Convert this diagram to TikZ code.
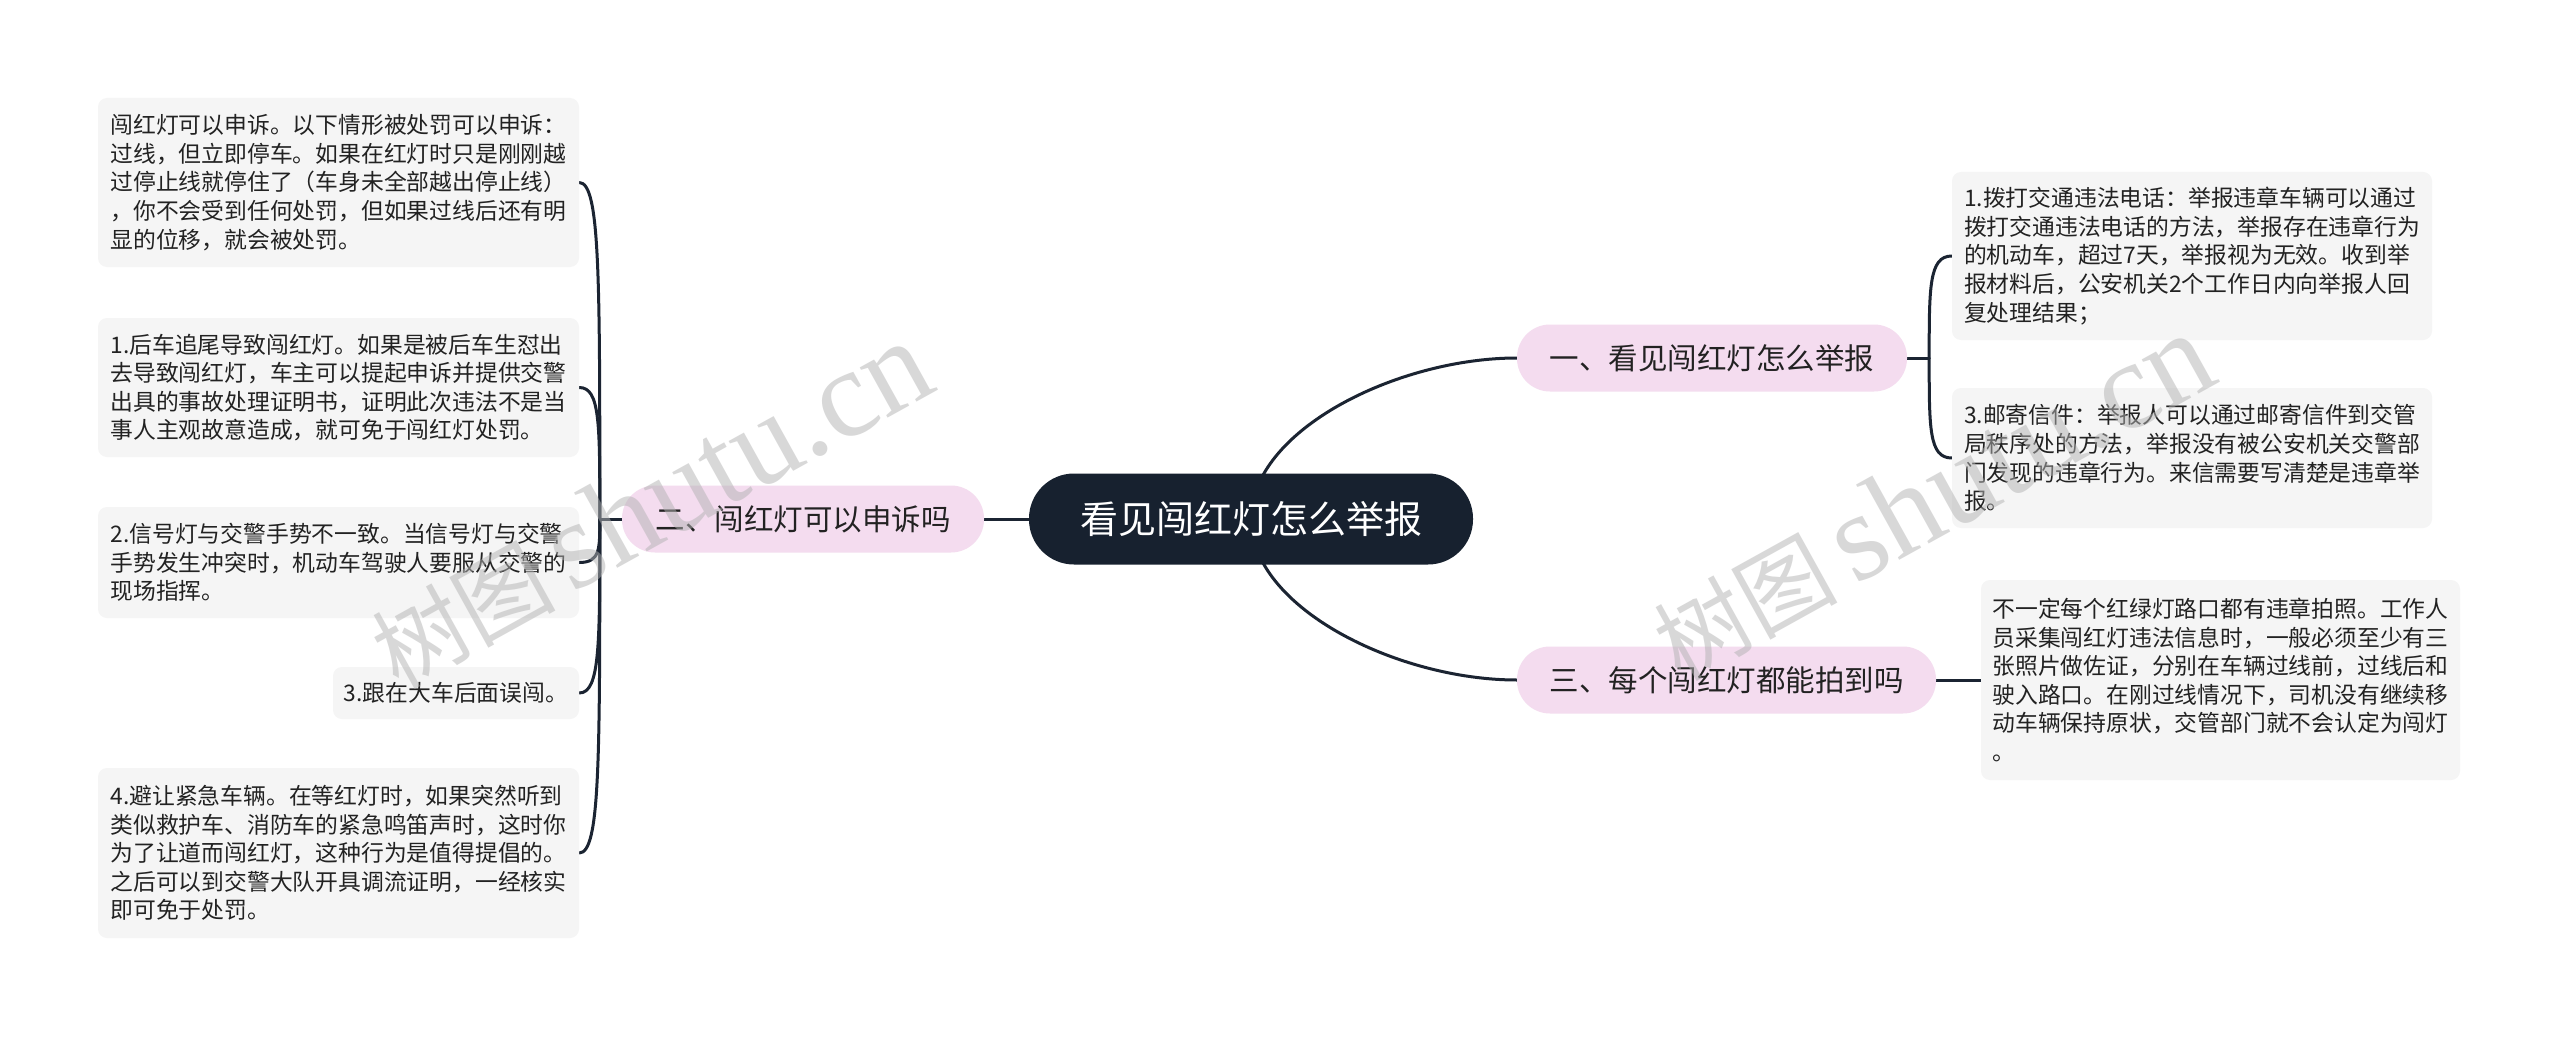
\documentclass[tikz,border=0pt]{standalone}
\usepackage{fontspec}
\newfontfamily\cjk{Noto Sans CJK SC}
\newfontfamily\wmserif{Liberation Serif}
\usetikzlibrary{calc}
\pgfdeclarelayer{background}
\pgfdeclarelayer{foreground}
\pgfsetlayers{background,main,foreground}
\definecolor{navy}{HTML}{17212F}
\definecolor{pinkfill}{HTML}{F4DCEF}
\definecolor{boxfill}{HTML}{F5F5F5}
\definecolor{linec}{HTML}{1B2432}
\definecolor{txt}{HTML}{222222}
\tikzset{
  rootnode/.style={fill=navy, rounded corners=45pt, text=white, font=\cjk\fontsize{38}{44}\selectfont, inner sep=0pt, minimum width=444pt, minimum height=91pt},
  branchnode/.style={fill=pinkfill, rounded corners=33pt, text=txt, font=\cjk\fontsize{29.5}{34}\selectfont, inner sep=0pt, minimum height=67pt},
  leafbox/.style={fill=boxfill, rounded corners=9pt, text=txt, font=\cjk\fontsize{22.8}{28.6}\selectfont, align=left, inner sep=0pt, minimum width=481pt},
  link/.style={draw=linec, line width=3pt, line cap=round},
  watermark/.style={text=gray!60, text opacity=0.5, rotate=29, inner sep=0pt}
}
\begin{document}
\begin{tikzpicture}[x=1pt,y=-1pt]
\useasboundingbox (0,0) rectangle (2560,1038);

% root and branches
\node[rootnode] (root) at (1251,519) {看见闯红灯怎么举报};
\node[branchnode, minimum width=390pt] (b1) at (1712,358) {一、看见闯红灯怎么举报};
\node[branchnode, minimum width=362pt] (b2) at (803,519) {二、闯红灯可以申诉吗};
\node[branchnode, minimum width=419pt] (b3) at (1726.5,680) {三、每个闯红灯都能拍到吗};

% left leaves
\node[leafbox, minimum height=169pt] (l1) at (338.5,182.5) {闯红灯可以申诉。以下情形被处罚可以申诉：\\过线，但立即停车。如果在红灯时只是刚刚越\\过停止线就停住了（车身未全部越出停止线）\\，你不会受到任何处罚，但如果过线后还有明\\显的位移，就会被处罚。};
\node[leafbox, minimum height=139pt] (l2) at (338.5,387.5) {1.后车追尾导致闯红灯。如果是被后车生怼出\\去导致闯红灯，车主可以提起申诉并提供交警\\出具的事故处理证明书，证明此次违法不是当\\事人主观故意造成，就可免于闯红灯处罚。};
\node[leafbox, minimum height=111pt] (l3) at (338.5,562.5) {2.信号灯与交警手势不一致。当信号灯与交警\\手势发生冲突时，机动车驾驶人要服从交警的\\现场指挥。};
\node[leafbox, minimum width=246pt, minimum height=52pt] (l4) at (456,693) {3.跟在大车后面误闯。};
\node[leafbox, minimum height=170pt] (l5) at (338.5,853) {4.避让紧急车辆。在等红灯时，如果突然听到\\类似救护车、消防车的紧急鸣笛声时，这时你\\为了让道而闯红灯，这种行为是值得提倡的。\\之后可以到交警大队开具调流证明，一经核实\\即可免于处罚。};

% right leaves
\node[leafbox, minimum width=480pt, minimum height=168pt] (r1) at (2192,256) {1.拨打交通违法电话：举报违章车辆可以通过\\拨打交通违法电话的方法，举报存在违章行为\\的机动车，超过7天，举报视为无效。收到举\\报材料后，公安机关2个工作日内向举报人回\\复处理结果；};
\node[leafbox, minimum width=480pt, minimum height=140pt] (r2) at (2192,458) {3.邮寄信件：举报人可以通过邮寄信件到交管\\局秩序处的方法，举报没有被公安机关交警部\\门发现的违章行为。来信需要写清楚是违章举\\报。};
\node[leafbox, minimum width=479pt, minimum height=200pt] (r3) at (2220.5,680) {不一定每个红绿灯路口都有违章拍照。工作人\\员采集闯红灯违法信息时，一般必须至少有三\\张照片做佐证，分别在车辆过线前，过线后和\\驶入路口。在刚过线情况下，司机没有继续移\\动车辆保持原状，交管部门就不会认定为闯灯\\。};

\coordinate (j1) at ($(b1.east)+(22,0)$);
\coordinate (j2) at ($(b2.west)+(-22,0)$);

\begin{pgfonlayer}{background}
\fill[white] (0,0) rectangle (2560,1038);
\draw[link] (root.center) .. controls +(0,-89) and +(-119,0) .. (b1.west);
\draw[link] (root.center) .. controls +(0,89) and +(-119,0) .. (b3.west);
\draw[link] (root.center) -- (b2.east);
\draw[link] (b1.east) -- (j1);
\draw[link] (j1) .. controls +(0,-70) and +(-23,0) .. (r1.west);
\draw[link] (j1) .. controls +(0,70) and +(-23,0) .. (r2.west);
\draw[link] (b3.east) -- (r3.west);
\draw[link] (b2.west) -- (j2);
\draw[link] (j2) .. controls +(0,-240) and +(21,0) .. (l1.east);
\draw[link] (j2) .. controls +(0,-95) and +(21,0) .. (l2.east);
\draw[link] (j2) .. controls +(0,30) and +(21,0) .. (l3.east);
\draw[link] (j2) .. controls +(0,125) and +(21,0) .. (l4.east);
\draw[link] (j2) .. controls +(0,240) and +(21,0) .. (l5.east);
\end{pgfonlayer}

\begin{pgfonlayer}{foreground}
\node[watermark] (wm1) at (650,505) {{\cjk\fontsize{92}{100}\selectfont 树图}\hspace{16pt}{\wmserif\fontsize{125}{130}\selectfont shutu.cn}};
\node[watermark] (wm2) at (1932,497) {{\cjk\fontsize{92}{100}\selectfont 树图}\hspace{16pt}{\wmserif\fontsize{125}{130}\selectfont shutu.cn}};
\end{pgfonlayer}
\end{tikzpicture}
\end{document}
